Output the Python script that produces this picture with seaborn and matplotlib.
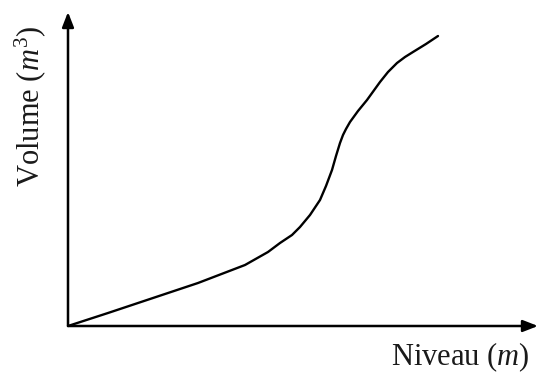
import matplotlib
matplotlib.use('Agg')
import matplotlib.pyplot as plt
import seaborn as sns
import pandas as pd

# level vs volume (arbitrary units)
niveau = [0, 40, 82, 130, 177, 200, 212, 224, 232, 242, 252, 258, 264, 268,
          272, 275, 278, 282, 290, 299, 312, 320, 329, 337, 345, 358, 370]
volume = [0, 13, 27, 43, 61, 74, 83, 91, 99, 111, 126, 140, 156, 170,
          183, 191, 197, 204, 215, 226, 244, 254, 263, 269, 274, 282, 290]

x_label = 'Niveau ($m$)'
y_label = 'Volume ($m^3$)'

sns.set_style('white')
plt.rcParams['font.family'] = ['Liberation Serif', 'DejaVu Serif']
plt.rcParams['mathtext.fontset'] = 'custom'
plt.rcParams['mathtext.rm'] = 'Liberation Serif'
plt.rcParams['mathtext.it'] = 'Liberation Serif:italic'

W, H = 538, 376
fig = plt.figure(figsize=(W / 100, H / 100), dpi=100)
ax = fig.add_axes([68 / W, 50 / H, 470 / W, 314 / H])

df = pd.DataFrame({'niveau': niveau, 'volume': volume})
sns.lineplot(data=df, x='niveau', y='volume', ax=ax, color='black',
             linewidth=1.7, sort=False)

ax.set_xlim(0, 470)
ax.set_ylim(0, 314)
ax.set_xticks([])
ax.set_yticks([])
ax.set_xlabel('')
ax.set_ylabel('')
for s in ax.spines.values():
    s.set_visible(False)

arrow = dict(arrowstyle='-|>,head_length=0.9,head_width=0.35', color='black',
             lw=1.8, shrinkA=0, shrinkB=0)
ax.annotate('', xy=(1, 0), xytext=(0, 0), xycoords='axes fraction',
            arrowprops=arrow, annotation_clip=False)
ax.annotate('', xy=(0, 1), xytext=(0, 0), xycoords='axes fraction',
            arrowprops=arrow, annotation_clip=False)

fig.text(530 / W, 1 - 357 / H, x_label, ha='right', va='center',
         fontsize=22, color='#1a1a1a')
fig.text(30 / W, 1 - 106 / H, y_label, ha='center', va='center',
         rotation=90, fontsize=22, color='#1a1a1a')

fig.savefig('out.png', dpi=100)
